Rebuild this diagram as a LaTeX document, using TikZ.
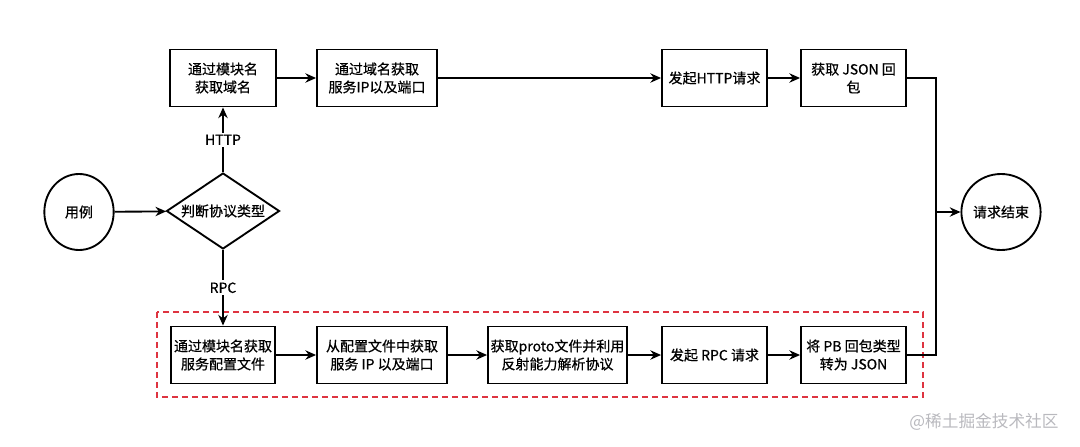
\documentclass[tikz,border=0pt]{standalone}
\usepackage{fontspec}
\setmainfont{Noto Sans CJK SC}
\newfontfamily\boxfont{Noto Sans CJK SC}[FakeBold=0.6]
\usetikzlibrary{arrows.meta,shapes.geometric}

\tikzset{
  proc/.style={draw, line width=1.4pt, minimum height=42.75pt, align=center,
    inner sep=1pt, font=\boxfont\fontsize{10.5}{13.5}\selectfont},
  term/.style={draw, ellipse, line width=1.4pt, minimum width=52pt,
    minimum height=57pt, inner sep=0pt, font=\boxfont\fontsize{10.5}{13.5}\selectfont},
  decide/.style={draw, diamond, aspect=1.5, line width=1.4pt, minimum width=84.75pt,
    minimum height=57pt, inner sep=0pt, font=\boxfont\fontsize{10.5}{13.5}\selectfont},
  flow/.style={line width=1.4pt, -{Stealth[length=8pt,width=7pt]}},
  wire/.style={line width=1.4pt},
  tag/.style={fill=white, inner sep=1.5pt, font=\boxfont\fontsize{10.5}{13.5}\selectfont},
}

\begin{document}
\begin{tikzpicture}[x=0.75pt,y=-0.75pt]
  \useasboundingbox (0,0) rectangle (1080,446);

  % RPC group frame
  \draw[color={rgb,255:red,222;green,52;blue,64}, line width=1.2pt,
    dash pattern=on 4.5pt off 3pt] (157,312) rectangle (923,397);

  % start, decision, end
  \node[term] (usecase) at (79,212) {用例};
  \node[decide] (judge) at (223,211) {判断协议类型};
  \node[term] (done) at (1001,212) {请求结束};

  % HTTP branch
  \node[proc, minimum width=79.5pt] (modname) at (223,78) {通过模块名\\获取域名};
  \node[proc, minimum width=90pt] (dnsip) at (377,78) {通过域名获取\\服务IP以及端口};
  \node[proc, minimum width=78.75pt] (httpreq) at (714.5,78) {发起HTTP请求};
  \node[proc, minimum width=78.75pt] (jsonresp) at (853.5,78) {获取 JSON 回\\包};

  % RPC branch
  \node[proc, minimum width=78pt] (confile) at (223,355) {通过模块名获取\\服务配置文件};
  \node[proc, minimum width=97.5pt] (ipport) at (382,355) {从配置文件中获取\\服务 IP 以及端口};
  \node[proc, minimum width=104.25pt] (proto) at (557.5,355) {获取proto文件并利用\\反射能力解析协议};
  \node[proc, minimum width=78.75pt] (rpcreq) at (714.5,355) {发起 RPC 请求};
  \node[proc, minimum width=78.75pt] (pbjson) at (853.5,355) {将 PB 回包类型\\转为 JSON};

  \coordinate (merge) at (936,212);

  % connectors
  \draw[flow] (usecase) -- (judge);
  \draw[flow] (judge.north) -- node[tag] {HTTP} (modname.south);
  \draw[flow] (judge.south) -- node[tag] {RPC} (confile.north);
  \draw[flow] (modname) -- (dnsip);
  \draw[flow] (dnsip) -- (httpreq);
  \draw[flow] (httpreq) -- (jsonresp);
  \draw[flow] (confile) -- (ipport);
  \draw[flow] (ipport) -- (proto);
  \draw[flow] (proto) -- (rpcreq);
  \draw[flow] (rpcreq) -- (pbjson);
  \draw[wire] (jsonresp.east) -| (merge);
  \draw[wire] (pbjson.east) -| (merge);
  \draw[flow] (merge) -- (done);

  % watermark
  \node[text={rgb,255:red,185;green,185;blue,190}, font=\fontsize{12.5}{15}\selectfont]
    (mark) at (984,422) {@稀土掘金技术社区};
\end{tikzpicture}
\end{document}
